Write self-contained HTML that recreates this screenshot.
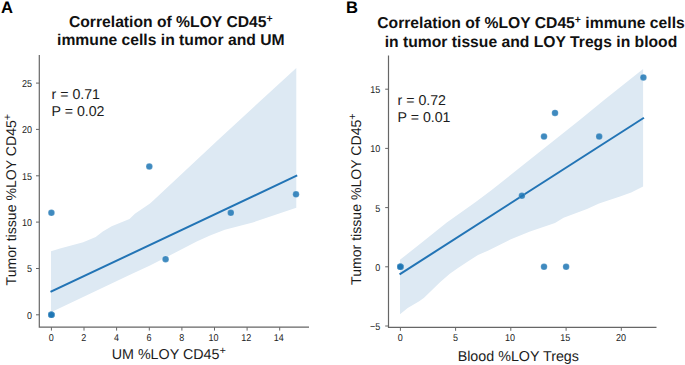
<!DOCTYPE html>
<html><head><meta charset="utf-8"><style>
html,body{margin:0;padding:0;background:#fff;width:685px;height:365px;overflow:hidden}
svg{display:block}
text{font-family:"Liberation Sans", sans-serif;text-rendering:geometricPrecision}
.tk{font-size:10px;fill:#222}
.lab{font-size:14.3px;fill:#1c1c1c}
.st{font-size:14.2px;fill:#1c1c1c}
.ti{font-size:15.7px;font-weight:bold;fill:#111}
.pl{font-size:16.6px;font-weight:bold;fill:#000}
.sup{font-size:11px}
.ylab{font-size:14.1px}
.sup2{font-size:10.5px}
</style></head><body>
<svg width="685" height="365" viewBox="0 0 685 365">
<polygon fill="#dde9f3" points="51.0,251.2 60.0,248.6 83.2,242.2 95.7,236.9 102.8,231.5 111.7,226.2 129.5,219.1 134.9,213.7 150.0,203.6 154.4,199.5 218.0,140.0 296.3,67.9 296.3,207.8 252.8,222.5 224.8,229.7 210.0,235.4 196.7,241.6 150.0,265.6 130.0,274.8 51.0,312.2"/>
<line x1="51.4" y1="291.5" x2="296.3" y2="175.8" stroke="#2274b5" stroke-width="2" stroke-linecap="square"/>
<circle cx="51.4" cy="314.8" r="3.25" fill="#1f77b4" fill-opacity="0.86" stroke="#fff" stroke-opacity="0.35" stroke-width="0.5"/>
<circle cx="51.4" cy="314.8" r="3.25" fill="#1f77b4" fill-opacity="0.86" stroke="#fff" stroke-opacity="0.35" stroke-width="0.5"/>
<circle cx="51.4" cy="314.8" r="3.25" fill="#1f77b4" fill-opacity="0.86" stroke="#fff" stroke-opacity="0.35" stroke-width="0.5"/>
<circle cx="51.4" cy="212.8" r="3.25" fill="#1f77b4" fill-opacity="0.86" stroke="#fff" stroke-opacity="0.35" stroke-width="0.5"/>
<circle cx="149.3" cy="166.5" r="3.25" fill="#1f77b4" fill-opacity="0.86" stroke="#fff" stroke-opacity="0.35" stroke-width="0.5"/>
<circle cx="165.6" cy="259.2" r="3.25" fill="#1f77b4" fill-opacity="0.86" stroke="#fff" stroke-opacity="0.35" stroke-width="0.5"/>
<circle cx="230.8" cy="212.8" r="3.25" fill="#1f77b4" fill-opacity="0.86" stroke="#fff" stroke-opacity="0.35" stroke-width="0.5"/>
<circle cx="296.0" cy="194.3" r="3.25" fill="#1f77b4" fill-opacity="0.86" stroke="#fff" stroke-opacity="0.35" stroke-width="0.5"/>
<path d="M39.3,55 V327.2 H309" fill="none" stroke="#666" stroke-width="1.2"/>
<line x1="51.4" y1="327.2" x2="51.4" y2="330.6" stroke="#666" stroke-width="1"/>
<text transform="translate(51.20,341) scale(0.9,1)" text-anchor="middle" class="tk">0</text>
<line x1="84.0" y1="327.2" x2="84.0" y2="330.6" stroke="#666" stroke-width="1"/>
<text transform="translate(83.82,341) scale(0.9,1)" text-anchor="middle" class="tk">2</text>
<line x1="116.6" y1="327.2" x2="116.6" y2="330.6" stroke="#666" stroke-width="1"/>
<text transform="translate(116.44,341) scale(0.9,1)" text-anchor="middle" class="tk">4</text>
<line x1="149.3" y1="327.2" x2="149.3" y2="330.6" stroke="#666" stroke-width="1"/>
<text transform="translate(149.06,341) scale(0.9,1)" text-anchor="middle" class="tk">6</text>
<line x1="181.9" y1="327.2" x2="181.9" y2="330.6" stroke="#666" stroke-width="1"/>
<text transform="translate(181.68,341) scale(0.9,1)" text-anchor="middle" class="tk">8</text>
<line x1="214.5" y1="327.2" x2="214.5" y2="330.6" stroke="#666" stroke-width="1"/>
<text transform="translate(213.60,341) scale(0.9,1)" text-anchor="middle" class="tk">10</text>
<line x1="247.1" y1="327.2" x2="247.1" y2="330.6" stroke="#666" stroke-width="1"/>
<text transform="translate(246.22,341) scale(0.9,1)" text-anchor="middle" class="tk">12</text>
<line x1="279.7" y1="327.2" x2="279.7" y2="330.6" stroke="#666" stroke-width="1"/>
<text transform="translate(278.84,341) scale(0.9,1)" text-anchor="middle" class="tk">14</text>
<line x1="36" y1="314.8" x2="39.3" y2="314.8" stroke="#666" stroke-width="1"/>
<text transform="translate(32.0,318.70) scale(0.9,1)" text-anchor="end" class="tk">0</text>
<line x1="36" y1="268.5" x2="39.3" y2="268.5" stroke="#666" stroke-width="1"/>
<text transform="translate(32.0,272.35) scale(0.9,1)" text-anchor="end" class="tk">5</text>
<line x1="36" y1="222.1" x2="39.3" y2="222.1" stroke="#666" stroke-width="1"/>
<text transform="translate(32.0,226.00) scale(0.9,1)" text-anchor="end" class="tk">10</text>
<line x1="36" y1="175.8" x2="39.3" y2="175.8" stroke="#666" stroke-width="1"/>
<text transform="translate(32.0,179.65) scale(0.9,1)" text-anchor="end" class="tk">15</text>
<line x1="36" y1="129.4" x2="39.3" y2="129.4" stroke="#666" stroke-width="1"/>
<text transform="translate(32.0,133.30) scale(0.9,1)" text-anchor="end" class="tk">20</text>
<line x1="36" y1="83.1" x2="39.3" y2="83.1" stroke="#666" stroke-width="1"/>
<text transform="translate(32.0,86.95) scale(0.9,1)" text-anchor="end" class="tk">25</text>
<text x="168.8" y="358.5" text-anchor="middle" class="lab">UM %LOY CD45<tspan class="sup" dy="-5">+</tspan></text>
<text transform="translate(15.5,199.6) rotate(-90)" text-anchor="middle" class="lab ylab">Tumor tissue %LOY CD45<tspan class="sup" dy="-5">+</tspan></text>
<text x="51.5" y="99.1" class="st">r = 0.71</text>
<text x="51.5" y="116.2" class="st">P = 0.02</text>
<text x="170.8" y="26.5" text-anchor="middle" class="ti">Correlation of %LOY CD45<tspan class="sup2" dy="-5">+</tspan></text>
<text x="170.8" y="45" text-anchor="middle" class="ti">immune cells in tumor and UM</text>
<text x="1" y="12.8" class="pl">A</text>
<polygon fill="#dde9f3" points="400.0,259.8 420.9,243.2 446.8,222.5 475.0,202.4 491.7,190.0 580.0,119.7 603.5,100.6 643.1,68.9 643.1,186.5 631.2,192.6 620.0,196.5 599.0,203.6 587.0,208.9 563.6,217.7 555.0,223.0 530.0,231.6 510.3,239.6 488.4,250.5 478.0,255.0 468.6,260.9 458.0,268.0 449.8,273.8 440.3,282.1 423.8,298.0 418.8,301.6 407.7,307.9 400.0,314.2"/>
<line x1="400.4" y1="273.9" x2="643.1" y2="118.3" stroke="#2274b5" stroke-width="2" stroke-linecap="square"/>
<circle cx="400.4" cy="266.8" r="3.25" fill="#1f77b4" fill-opacity="0.86" stroke="#fff" stroke-opacity="0.35" stroke-width="0.5"/>
<circle cx="400.4" cy="266.8" r="3.25" fill="#1f77b4" fill-opacity="0.86" stroke="#fff" stroke-opacity="0.35" stroke-width="0.5"/>
<circle cx="400.4" cy="266.8" r="3.25" fill="#1f77b4" fill-opacity="0.86" stroke="#fff" stroke-opacity="0.35" stroke-width="0.5"/>
<circle cx="521.9" cy="195.8" r="3.25" fill="#1f77b4" fill-opacity="0.86" stroke="#fff" stroke-opacity="0.35" stroke-width="0.5"/>
<circle cx="544.0" cy="136.6" r="3.25" fill="#1f77b4" fill-opacity="0.86" stroke="#fff" stroke-opacity="0.35" stroke-width="0.5"/>
<circle cx="555.0" cy="112.9" r="3.25" fill="#1f77b4" fill-opacity="0.86" stroke="#fff" stroke-opacity="0.35" stroke-width="0.5"/>
<circle cx="599.2" cy="136.6" r="3.25" fill="#1f77b4" fill-opacity="0.86" stroke="#fff" stroke-opacity="0.35" stroke-width="0.5"/>
<circle cx="643.4" cy="77.4" r="3.25" fill="#1f77b4" fill-opacity="0.86" stroke="#fff" stroke-opacity="0.35" stroke-width="0.5"/>
<circle cx="544.0" cy="266.8" r="3.25" fill="#1f77b4" fill-opacity="0.86" stroke="#fff" stroke-opacity="0.35" stroke-width="0.5"/>
<circle cx="566.1" cy="266.8" r="3.25" fill="#1f77b4" fill-opacity="0.86" stroke="#fff" stroke-opacity="0.35" stroke-width="0.5"/>
<path d="M388.5,55.5 V327.4 H656.5" fill="none" stroke="#666" stroke-width="1.2"/>
<line x1="400.4" y1="327.4" x2="400.4" y2="330.8" stroke="#666" stroke-width="1"/>
<text transform="translate(400.20,341.2) scale(0.9,1)" text-anchor="middle" class="tk">0</text>
<line x1="455.6" y1="327.4" x2="455.6" y2="330.8" stroke="#666" stroke-width="1"/>
<text transform="translate(455.43,341.2) scale(0.9,1)" text-anchor="middle" class="tk">5</text>
<line x1="510.8" y1="327.4" x2="510.8" y2="330.8" stroke="#666" stroke-width="1"/>
<text transform="translate(509.95,341.2) scale(0.9,1)" text-anchor="middle" class="tk">10</text>
<line x1="566.1" y1="327.4" x2="566.1" y2="330.8" stroke="#666" stroke-width="1"/>
<text transform="translate(565.18,341.2) scale(0.9,1)" text-anchor="middle" class="tk">15</text>
<line x1="621.3" y1="327.4" x2="621.3" y2="330.8" stroke="#666" stroke-width="1"/>
<text transform="translate(621.10,341.2) scale(0.9,1)" text-anchor="middle" class="tk">20</text>
<line x1="385.2" y1="326.0" x2="388.5" y2="326.0" stroke="#666" stroke-width="1"/>
<text transform="translate(380.3,329.90) scale(0.9,1)" text-anchor="end" class="tk">−5</text>
<line x1="385.2" y1="266.8" x2="388.5" y2="266.8" stroke="#666" stroke-width="1"/>
<text transform="translate(380.3,270.70) scale(0.9,1)" text-anchor="end" class="tk">0</text>
<line x1="385.2" y1="207.6" x2="388.5" y2="207.6" stroke="#666" stroke-width="1"/>
<text transform="translate(380.3,211.50) scale(0.9,1)" text-anchor="end" class="tk">5</text>
<line x1="385.2" y1="148.4" x2="388.5" y2="148.4" stroke="#666" stroke-width="1"/>
<text transform="translate(380.3,152.30) scale(0.9,1)" text-anchor="end" class="tk">10</text>
<line x1="385.2" y1="89.2" x2="388.5" y2="89.2" stroke="#666" stroke-width="1"/>
<text transform="translate(380.3,93.10) scale(0.9,1)" text-anchor="end" class="tk">15</text>
<text x="518.3" y="361.3" text-anchor="middle" class="lab">Blood %LOY Tregs</text>
<text transform="translate(361.4,199.1) rotate(-90)" text-anchor="middle" class="lab ylab">Tumor tissue %LOY CD45<tspan class="sup" dy="-5">+</tspan></text>
<text x="397.5" y="104.8" class="st">r = 0.72</text>
<text x="397.5" y="121.5" class="st">P = 0.01</text>
<text x="531" y="28" text-anchor="middle" class="ti">Correlation of %LOY CD45<tspan class="sup2" dy="-5">+</tspan><tspan dy="5"> immune cells</tspan></text>
<text x="531" y="46.8" text-anchor="middle" class="ti">in tumor tissue and LOY Tregs in blood</text>
<text x="346" y="13" class="pl">B</text>
</svg>
</body></html>
